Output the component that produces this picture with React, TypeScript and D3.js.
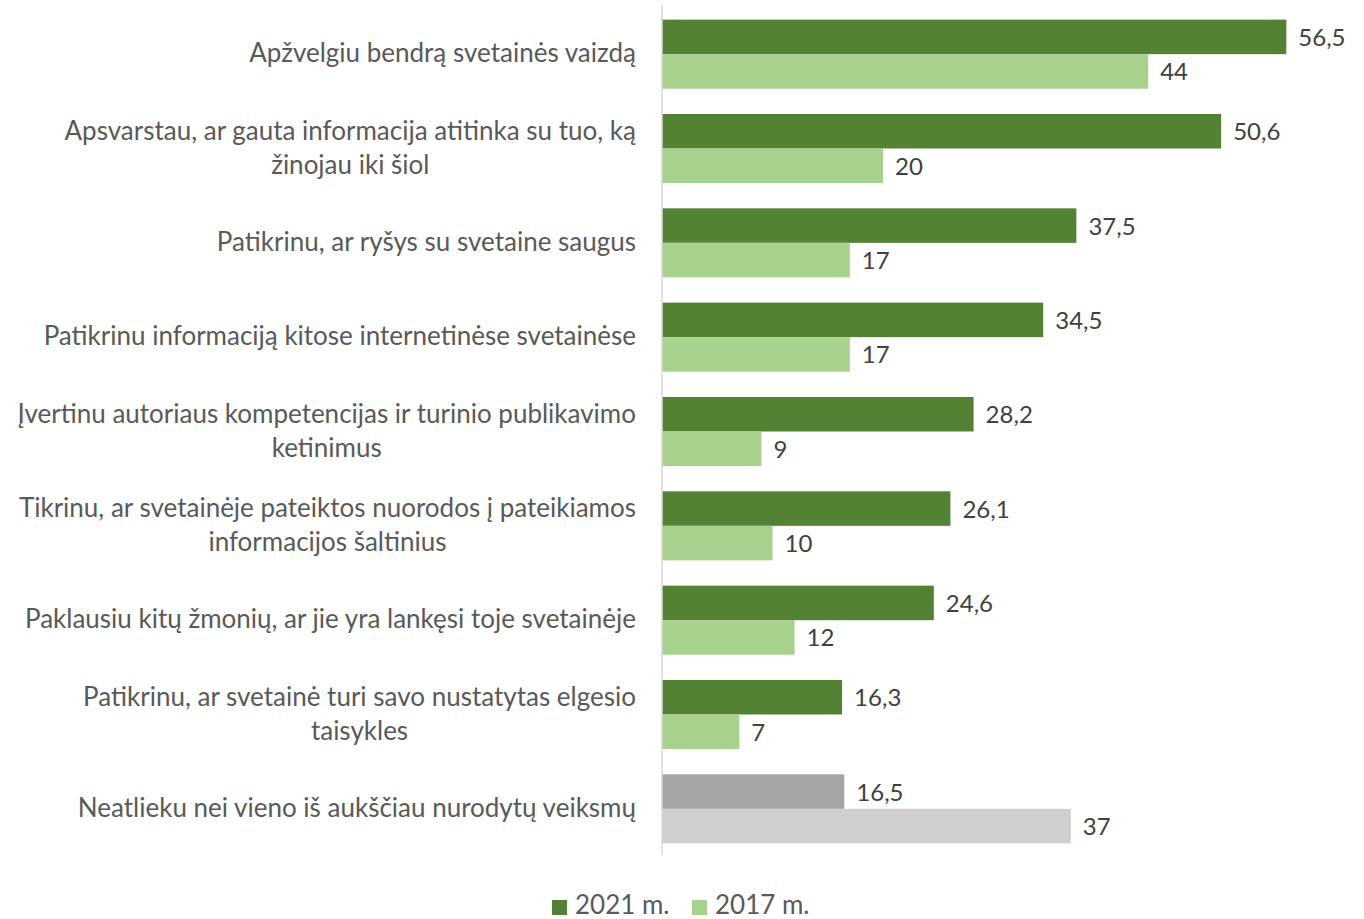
import * as d3 from 'd3'
import { useRef, useEffect } from 'react'

const categories: string[][] = [
  ['Apžvelgiu bendrą svetainės vaizdą'],
  ['Apsvarstau, ar gauta informacija atitinka su tuo, ką', 'žinojau iki šiol'],
  ['Patikrinu, ar ryšys su svetaine saugus'],
  ['Patikrinu informaciją kitose internetinėse svetainėse'],
  ['Įvertinu autoriaus kompetencijas ir turinio publikavimo', 'ketinimus'],
  ['Tikrinu, ar svetainėje pateiktos nuorodos į pateikiamos', 'informacijos šaltinius'],
  ['Paklausiu kitų žmonių, ar jie yra lankęsi toje svetainėje'],
  ['Patikrinu, ar svetainė turi savo nustatytas elgesio', 'taisykles'],
  ['Neatlieku nei vieno iš aukščiau nurodytų veiksmų'],
]
const series = ['2021 m.', '2017 m.']
const values2021 = [56.5, 50.6, 37.5, 34.5, 28.2, 26.1, 24.6, 16.3, 16.5]
const values2017 = [44, 20, 17, 17, 9, 10, 12, 7, 37]

const width = 1364
const height = 919
const axisX = 662
const top = 7
const bottom = 856
const labelRight = 636
const font = 'Lato, "Open Sans", sans-serif'
const labelSize = 26
const valueSize = 24

const greens = ['#548235', '#A9D18E']
const grays = ['#A5A5A5', '#D0CECE']

const App = () => {
  const svgRef = useRef<SVGSVGElement>(null)

  useEffect(() => {
    const svg = d3.select(svgRef.current)
    svg.selectAll('*').remove()

    const ids = categories.map((_, i) => String(i))
    const y = d3
      .scaleBand()
      .domain(ids)
      .range([top, bottom])
      .paddingInner(0.268)
      .paddingOuter(0.134)
    const ySub = d3.scaleBand().domain(series).range([0, y.bandwidth()])
    const x = d3.scaleLinear().domain([0, 1]).range([axisX, axisX + 11.05])

    const rows = ids.map((id, i) => ({
      id,
      lines: categories[i],
      vals: [values2021[i], values2017[i]],
      colors: i === categories.length - 1 ? grays : greens,
    }))

    // bars + value labels
    const g = svg.append('g')
    rows.forEach(r => {
      series.forEach((s, k) => {
        const y0 = (y(r.id) as number) + (ySub(s) as number)
        g.append('rect')
          .attr('x', x(0))
          .attr('y', y0)
          .attr('width', x(r.vals[k]) - x(0))
          .attr('height', ySub.bandwidth())
          .attr('fill', r.colors[k])
        g.append('text')
          .attr('x', x(r.vals[k]) + 12)
          .attr('y', y0 + ySub.bandwidth() / 2 + 9)
          .attr('font-family', font)
          .attr('font-size', valueSize)
          .attr('fill', '#404040')
          .text(String(r.vals[k]).replace('.', ','))
      })
    })

    // axis line
    svg
      .append('line')
      .attr('x1', axisX)
      .attr('x2', axisX)
      .attr('y1', top - 2)
      .attr('y2', bottom - 1)
      .attr('stroke', '#D9D9D9')
      .attr('stroke-width', 1.5)

    // category labels: block right aligned, lines centered in block
    const lab = svg.append('g')
    rows.forEach(r => {
      const cy = (y(r.id) as number) + y.bandwidth() / 2
      const lineH = 34
      const texts = r.lines.map((line, j) =>
        lab
          .append('text')
          .attr('font-family', font)
          .attr('font-size', labelSize)
          .attr('fill', '#595959')
          .attr('text-anchor', 'middle')
          .attr('y', cy + (j - (r.lines.length - 1) / 2) * lineH + 8)
          .text(line)
      )
      const maxW = d3.max(texts, t => (t.node() as SVGTextElement).getComputedTextLength()) as number
      texts.forEach(t => t.attr('x', labelRight - maxW / 2))
    })

    // legend
    const leg = svg.append('g')
    const legX = [552, 692]
    series.forEach((s, k) => {
      leg
        .append('rect')
        .attr('x', legX[k])
        .attr('y', 900)
        .attr('width', 15)
        .attr('height', 15)
        .attr('fill', greens[k])
      leg
        .append('text')
        .attr('x', legX[k] + 23)
        .attr('y', 914)
        .attr('font-family', font)
        .attr('font-size', labelSize)
        .attr('fill', '#595959')
        .text(s)
    })
  }, [])

  return (
    <svg
      ref={svgRef}
      width={width}
      height={height}
      style={{ position: 'absolute', left: 0, top: 0, background: '#fff' }}
    ></svg>
  )
}

export default App
